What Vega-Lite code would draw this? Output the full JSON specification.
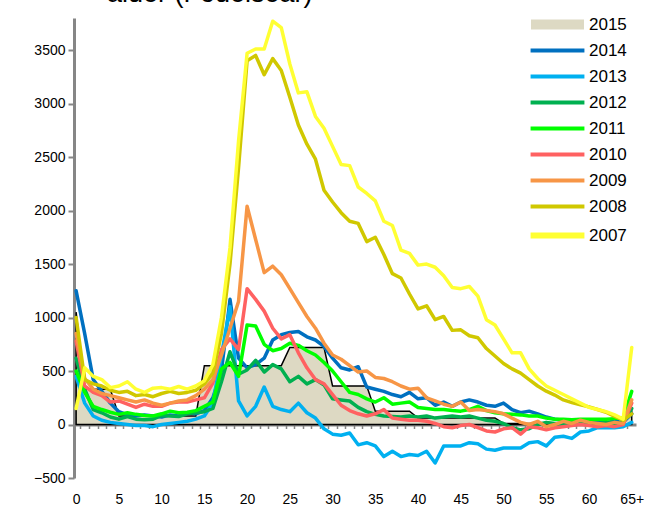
{
 "$schema": "https://vega.github.io/schema/vega-lite/v6.json",
 "width": 562, "height": 460,
 "autosize": "none",
 "padding": {"left": 74, "top": 18, "right": 15, "bottom": 32},
 "background": "white",
 "config": {"view": {"stroke": null}, "font": "Liberation Sans"},
 "title": {"text": "ålder (Födelseår)", "fontSize": 27, "fontWeight": "normal", "anchor": "start", "frame": "group", "dx": 33, "dy": 27, "offset": 14, "baseline": "alphabetic", "color": "black", "font": "Liberation Sans"},
 "data": {"values": [
{"year":"2015","age":0,"n":1050},{"year":"2015","age":1,"n":330},{"year":"2015","age":2,"n":330},{"year":"2015","age":3,"n":330},{"year":"2015","age":4,"n":330},{"year":"2015","age":5,"n":80},{"year":"2015","age":6,"n":80},{"year":"2015","age":7,"n":80},{"year":"2015","age":8,"n":80},{"year":"2015","age":9,"n":80},
{"year":"2015","age":10,"n":80},{"year":"2015","age":11,"n":80},{"year":"2015","age":12,"n":80},{"year":"2015","age":13,"n":80},{"year":"2015","age":14,"n":80},{"year":"2015","age":15,"n":550},{"year":"2015","age":16,"n":550},{"year":"2015","age":17,"n":550},{"year":"2015","age":18,"n":550},{"year":"2015","age":19,"n":550},
{"year":"2015","age":20,"n":550},{"year":"2015","age":21,"n":550},{"year":"2015","age":22,"n":550},{"year":"2015","age":23,"n":550},{"year":"2015","age":24,"n":550},{"year":"2015","age":25,"n":720},{"year":"2015","age":26,"n":720},{"year":"2015","age":27,"n":720},{"year":"2015","age":28,"n":720},{"year":"2015","age":29,"n":720},
{"year":"2015","age":30,"n":360},{"year":"2015","age":31,"n":360},{"year":"2015","age":32,"n":360},{"year":"2015","age":33,"n":360},{"year":"2015","age":34,"n":360},{"year":"2015","age":35,"n":125},{"year":"2015","age":36,"n":125},{"year":"2015","age":37,"n":125},{"year":"2015","age":38,"n":125},{"year":"2015","age":39,"n":125},
{"year":"2015","age":40,"n":60},{"year":"2015","age":41,"n":60},{"year":"2015","age":42,"n":60},{"year":"2015","age":43,"n":60},{"year":"2015","age":44,"n":60},{"year":"2015","age":45,"n":60},{"year":"2015","age":46,"n":60},{"year":"2015","age":47,"n":60},{"year":"2015","age":48,"n":60},{"year":"2015","age":49,"n":60},
{"year":"2015","age":50,"n":10},{"year":"2015","age":51,"n":10},{"year":"2015","age":52,"n":10},{"year":"2015","age":53,"n":10},{"year":"2015","age":54,"n":10},{"year":"2015","age":55,"n":10},{"year":"2015","age":56,"n":10},{"year":"2015","age":57,"n":10},{"year":"2015","age":58,"n":10},{"year":"2015","age":59,"n":10},
{"year":"2015","age":60,"n":10},{"year":"2015","age":61,"n":10},{"year":"2015","age":62,"n":10},{"year":"2015","age":63,"n":10},{"year":"2015","age":64,"n":10},{"year":"2015","age":65,"n":115},

{"year":"2014","age":0,"n":1250},{"year":"2014","age":1,"n":850},{"year":"2014","age":2,"n":420},{"year":"2014","age":3,"n":310},{"year":"2014","age":4,"n":200},{"year":"2014","age":5,"n":120},{"year":"2014","age":6,"n":90},{"year":"2014","age":7,"n":80},{"year":"2014","age":8,"n":90},{"year":"2014","age":9,"n":80},
{"year":"2014","age":10,"n":70},{"year":"2014","age":11,"n":90},{"year":"2014","age":12,"n":80},{"year":"2014","age":13,"n":110},{"year":"2014","age":14,"n":100},{"year":"2014","age":15,"n":130},{"year":"2014","age":16,"n":250},{"year":"2014","age":17,"n":500},{"year":"2014","age":18,"n":1170},{"year":"2014","age":19,"n":620},
{"year":"2014","age":20,"n":530},{"year":"2014","age":21,"n":560},{"year":"2014","age":22,"n":620},{"year":"2014","age":23,"n":790},{"year":"2014","age":24,"n":840},{"year":"2014","age":25,"n":860},{"year":"2014","age":26,"n":870},{"year":"2014","age":27,"n":820},{"year":"2014","age":28,"n":790},{"year":"2014","age":29,"n":730},
{"year":"2014","age":30,"n":620},{"year":"2014","age":31,"n":530},{"year":"2014","age":32,"n":510},{"year":"2014","age":33,"n":540},{"year":"2014","age":34,"n":350},{"year":"2014","age":35,"n":330},{"year":"2014","age":36,"n":310},{"year":"2014","age":37,"n":280},{"year":"2014","age":38,"n":260},{"year":"2014","age":39,"n":300},
{"year":"2014","age":40,"n":240},{"year":"2014","age":41,"n":250},{"year":"2014","age":42,"n":180},{"year":"2014","age":43,"n":210},{"year":"2014","age":44,"n":170},{"year":"2014","age":45,"n":210},{"year":"2014","age":46,"n":230},{"year":"2014","age":47,"n":210},{"year":"2014","age":48,"n":180},{"year":"2014","age":49,"n":170},
{"year":"2014","age":50,"n":200},{"year":"2014","age":51,"n":140},{"year":"2014","age":52,"n":110},{"year":"2014","age":53,"n":125},{"year":"2014","age":54,"n":100},{"year":"2014","age":55,"n":70},{"year":"2014","age":56,"n":50},{"year":"2014","age":57,"n":40},{"year":"2014","age":58,"n":30},{"year":"2014","age":59,"n":40},
{"year":"2014","age":60,"n":20},{"year":"2014","age":61,"n":30},{"year":"2014","age":62,"n":20},{"year":"2014","age":63,"n":30},{"year":"2014","age":64,"n":20},{"year":"2014","age":65,"n":100},

{"year":"2013","age":0,"n":450},{"year":"2013","age":1,"n":200},{"year":"2013","age":2,"n":80},{"year":"2013","age":3,"n":40},{"year":"2013","age":4,"n":20},{"year":"2013","age":5,"n":10},{"year":"2013","age":6,"n":0},{"year":"2013","age":7,"n":-10},{"year":"2013","age":8,"n":-10},{"year":"2013","age":9,"n":-20},
{"year":"2013","age":10,"n":0},{"year":"2013","age":11,"n":10},{"year":"2013","age":12,"n":20},{"year":"2013","age":13,"n":30},{"year":"2013","age":14,"n":50},{"year":"2013","age":15,"n":80},{"year":"2013","age":16,"n":200},{"year":"2013","age":17,"n":650},{"year":"2013","age":18,"n":1100},{"year":"2013","age":19,"n":220},
{"year":"2013","age":20,"n":80},{"year":"2013","age":21,"n":170},{"year":"2013","age":22,"n":350},{"year":"2013","age":23,"n":170},{"year":"2013","age":24,"n":140},{"year":"2013","age":25,"n":120},{"year":"2013","age":26,"n":200},{"year":"2013","age":27,"n":110},{"year":"2013","age":28,"n":60},{"year":"2013","age":29,"n":-40},
{"year":"2013","age":30,"n":-90},{"year":"2013","age":31,"n":-100},{"year":"2013","age":32,"n":-80},{"year":"2013","age":33,"n":-190},{"year":"2013","age":34,"n":-170},{"year":"2013","age":35,"n":-200},{"year":"2013","age":36,"n":-300},{"year":"2013","age":37,"n":-250},{"year":"2013","age":38,"n":-300},{"year":"2013","age":39,"n":-280},
{"year":"2013","age":40,"n":-290},{"year":"2013","age":41,"n":-250},{"year":"2013","age":42,"n":-360},{"year":"2013","age":43,"n":-200},{"year":"2013","age":44,"n":-200},{"year":"2013","age":45,"n":-200},{"year":"2013","age":46,"n":-170},{"year":"2013","age":47,"n":-180},{"year":"2013","age":48,"n":-230},{"year":"2013","age":49,"n":-240},
{"year":"2013","age":50,"n":-220},{"year":"2013","age":51,"n":-220},{"year":"2013","age":52,"n":-220},{"year":"2013","age":53,"n":-170},{"year":"2013","age":54,"n":-160},{"year":"2013","age":55,"n":-200},{"year":"2013","age":56,"n":-120},{"year":"2013","age":57,"n":-110},{"year":"2013","age":58,"n":-130},{"year":"2013","age":59,"n":-70},
{"year":"2013","age":60,"n":-60},{"year":"2013","age":61,"n":-30},{"year":"2013","age":62,"n":-30},{"year":"2013","age":63,"n":-30},{"year":"2013","age":64,"n":-20},{"year":"2013","age":65,"n":20},

{"year":"2012","age":0,"n":620},{"year":"2012","age":1,"n":330},{"year":"2012","age":2,"n":140},{"year":"2012","age":3,"n":110},{"year":"2012","age":4,"n":70},{"year":"2012","age":5,"n":50},{"year":"2012","age":6,"n":75},{"year":"2012","age":7,"n":50},{"year":"2012","age":8,"n":45},{"year":"2012","age":9,"n":50},
{"year":"2012","age":10,"n":85},{"year":"2012","age":11,"n":80},{"year":"2012","age":12,"n":75},{"year":"2012","age":13,"n":100},{"year":"2012","age":14,"n":110},{"year":"2012","age":15,"n":120},{"year":"2012","age":16,"n":150},{"year":"2012","age":17,"n":400},{"year":"2012","age":18,"n":680},{"year":"2012","age":19,"n":470},
{"year":"2012","age":20,"n":510},{"year":"2012","age":21,"n":600},{"year":"2012","age":22,"n":490},{"year":"2012","age":23,"n":560},{"year":"2012","age":24,"n":520},{"year":"2012","age":25,"n":400},{"year":"2012","age":26,"n":450},{"year":"2012","age":27,"n":380},{"year":"2012","age":28,"n":420},{"year":"2012","age":29,"n":370},
{"year":"2012","age":30,"n":240},{"year":"2012","age":31,"n":230},{"year":"2012","age":32,"n":220},{"year":"2012","age":33,"n":160},{"year":"2012","age":34,"n":120},{"year":"2012","age":35,"n":95},{"year":"2012","age":36,"n":80},{"year":"2012","age":37,"n":75},{"year":"2012","age":38,"n":70},{"year":"2012","age":39,"n":80},
{"year":"2012","age":40,"n":70},{"year":"2012","age":41,"n":80},{"year":"2012","age":42,"n":60},{"year":"2012","age":43,"n":70},{"year":"2012","age":44,"n":80},{"year":"2012","age":45,"n":70},{"year":"2012","age":46,"n":80},{"year":"2012","age":47,"n":60},{"year":"2012","age":48,"n":40},{"year":"2012","age":49,"n":30},
{"year":"2012","age":50,"n":10},{"year":"2012","age":51,"n":-30},{"year":"2012","age":52,"n":-50},{"year":"2012","age":53,"n":-40},{"year":"2012","age":54,"n":0},{"year":"2012","age":55,"n":20},{"year":"2012","age":56,"n":10},{"year":"2012","age":57,"n":0},{"year":"2012","age":58,"n":20},{"year":"2012","age":59,"n":10},
{"year":"2012","age":60,"n":20},{"year":"2012","age":61,"n":10},{"year":"2012","age":62,"n":20},{"year":"2012","age":63,"n":10},{"year":"2012","age":64,"n":20},{"year":"2012","age":65,"n":150},

{"year":"2011","age":0,"n":500},{"year":"2011","age":1,"n":300},{"year":"2011","age":2,"n":170},{"year":"2011","age":3,"n":140},{"year":"2011","age":4,"n":115},{"year":"2011","age":5,"n":95},{"year":"2011","age":6,"n":110},{"year":"2011","age":7,"n":95},{"year":"2011","age":8,"n":85},{"year":"2011","age":9,"n":80},
{"year":"2011","age":10,"n":100},{"year":"2011","age":11,"n":125},{"year":"2011","age":12,"n":110},{"year":"2011","age":13,"n":115},{"year":"2011","age":14,"n":130},{"year":"2011","age":15,"n":170},{"year":"2011","age":16,"n":210},{"year":"2011","age":17,"n":520},{"year":"2011","age":18,"n":580},{"year":"2011","age":19,"n":450},
{"year":"2011","age":20,"n":930},{"year":"2011","age":21,"n":920},{"year":"2011","age":22,"n":750},{"year":"2011","age":23,"n":690},{"year":"2011","age":24,"n":710},{"year":"2011","age":25,"n":760},{"year":"2011","age":26,"n":740},{"year":"2011","age":27,"n":690},{"year":"2011","age":28,"n":650},{"year":"2011","age":29,"n":580},
{"year":"2011","age":30,"n":500},{"year":"2011","age":31,"n":400},{"year":"2011","age":32,"n":300},{"year":"2011","age":33,"n":280},{"year":"2011","age":34,"n":240},{"year":"2011","age":35,"n":210},{"year":"2011","age":36,"n":250},{"year":"2011","age":37,"n":190},{"year":"2011","age":38,"n":200},{"year":"2011","age":39,"n":210},
{"year":"2011","age":40,"n":160},{"year":"2011","age":41,"n":150},{"year":"2011","age":42,"n":140},{"year":"2011","age":43,"n":140},{"year":"2011","age":44,"n":130},{"year":"2011","age":45,"n":125},{"year":"2011","age":46,"n":140},{"year":"2011","age":47,"n":170},{"year":"2011","age":48,"n":130},{"year":"2011","age":49,"n":110},
{"year":"2011","age":50,"n":100},{"year":"2011","age":51,"n":95},{"year":"2011","age":52,"n":90},{"year":"2011","age":53,"n":80},{"year":"2011","age":54,"n":80},{"year":"2011","age":55,"n":60},{"year":"2011","age":56,"n":50},{"year":"2011","age":57,"n":50},{"year":"2011","age":58,"n":45},{"year":"2011","age":59,"n":50},
{"year":"2011","age":60,"n":50},{"year":"2011","age":61,"n":50},{"year":"2011","age":62,"n":50},{"year":"2011","age":63,"n":55},{"year":"2011","age":64,"n":60},{"year":"2011","age":65,"n":310},

{"year":"2010","age":0,"n":780},{"year":"2010","age":1,"n":360},{"year":"2010","age":2,"n":300},{"year":"2010","age":3,"n":270},{"year":"2010","age":4,"n":210},{"year":"2010","age":5,"n":220},{"year":"2010","age":6,"n":190},{"year":"2010","age":7,"n":160},{"year":"2010","age":8,"n":190},{"year":"2010","age":9,"n":170},
{"year":"2010","age":10,"n":170},{"year":"2010","age":11,"n":200},{"year":"2010","age":12,"n":210},{"year":"2010","age":13,"n":210},{"year":"2010","age":14,"n":230},{"year":"2010","age":15,"n":250},{"year":"2010","age":16,"n":390},{"year":"2010","age":17,"n":700},{"year":"2010","age":18,"n":800},{"year":"2010","age":19,"n":700},
{"year":"2010","age":20,"n":1270},{"year":"2010","age":21,"n":1170},{"year":"2010","age":22,"n":1060},{"year":"2010","age":23,"n":900},{"year":"2010","age":24,"n":800},{"year":"2010","age":25,"n":840},{"year":"2010","age":26,"n":670},{"year":"2010","age":27,"n":530},{"year":"2010","age":28,"n":420},{"year":"2010","age":29,"n":380},
{"year":"2010","age":30,"n":280},{"year":"2010","age":31,"n":180},{"year":"2010","age":32,"n":130},{"year":"2010","age":33,"n":100},{"year":"2010","age":34,"n":80},{"year":"2010","age":35,"n":100},{"year":"2010","age":36,"n":140},{"year":"2010","age":37,"n":60},{"year":"2010","age":38,"n":50},{"year":"2010","age":39,"n":40},
{"year":"2010","age":40,"n":40},{"year":"2010","age":41,"n":30},{"year":"2010","age":42,"n":10},{"year":"2010","age":43,"n":-20},{"year":"2010","age":44,"n":-30},{"year":"2010","age":45,"n":-10},{"year":"2010","age":46,"n":0},{"year":"2010","age":47,"n":-30},{"year":"2010","age":48,"n":-60},{"year":"2010","age":49,"n":-70},
{"year":"2010","age":50,"n":-40},{"year":"2010","age":51,"n":-30},{"year":"2010","age":52,"n":-90},{"year":"2010","age":53,"n":-20},{"year":"2010","age":54,"n":-30},{"year":"2010","age":55,"n":-50},{"year":"2010","age":56,"n":-30},{"year":"2010","age":57,"n":-20},{"year":"2010","age":58,"n":-10},{"year":"2010","age":59,"n":0},
{"year":"2010","age":60,"n":-10},{"year":"2010","age":61,"n":-20},{"year":"2010","age":62,"n":-10},{"year":"2010","age":63,"n":-20},{"year":"2010","age":64,"n":0},{"year":"2010","age":65,"n":200},

{"year":"2009","age":0,"n":850},{"year":"2009","age":1,"n":430},{"year":"2009","age":2,"n":330},{"year":"2009","age":3,"n":290},{"year":"2009","age":4,"n":270},{"year":"2009","age":5,"n":250},{"year":"2009","age":6,"n":230},{"year":"2009","age":7,"n":210},{"year":"2009","age":8,"n":230},{"year":"2009","age":9,"n":200},
{"year":"2009","age":10,"n":180},{"year":"2009","age":11,"n":200},{"year":"2009","age":12,"n":220},{"year":"2009","age":13,"n":230},{"year":"2009","age":14,"n":270},{"year":"2009","age":15,"n":330},{"year":"2009","age":16,"n":420},{"year":"2009","age":17,"n":650},{"year":"2009","age":18,"n":900},{"year":"2009","age":19,"n":1150},
{"year":"2009","age":20,"n":2040},{"year":"2009","age":21,"n":1730},{"year":"2009","age":22,"n":1420},{"year":"2009","age":23,"n":1480},{"year":"2009","age":24,"n":1400},{"year":"2009","age":25,"n":1270},{"year":"2009","age":26,"n":1140},{"year":"2009","age":27,"n":1010},{"year":"2009","age":28,"n":900},{"year":"2009","age":29,"n":760},
{"year":"2009","age":30,"n":650},{"year":"2009","age":31,"n":610},{"year":"2009","age":32,"n":550},{"year":"2009","age":33,"n":490},{"year":"2009","age":34,"n":500},{"year":"2009","age":35,"n":440},{"year":"2009","age":36,"n":430},{"year":"2009","age":37,"n":400},{"year":"2009","age":38,"n":360},{"year":"2009","age":39,"n":330},
{"year":"2009","age":40,"n":340},{"year":"2009","age":41,"n":250},{"year":"2009","age":42,"n":220},{"year":"2009","age":43,"n":190},{"year":"2009","age":44,"n":170},{"year":"2009","age":45,"n":210},{"year":"2009","age":46,"n":130},{"year":"2009","age":47,"n":140},{"year":"2009","age":48,"n":130},{"year":"2009","age":49,"n":120},
{"year":"2009","age":50,"n":100},{"year":"2009","age":51,"n":60},{"year":"2009","age":52,"n":20},{"year":"2009","age":53,"n":0},{"year":"2009","age":54,"n":30},{"year":"2009","age":55,"n":-20},{"year":"2009","age":56,"n":0},{"year":"2009","age":57,"n":30},{"year":"2009","age":58,"n":10},{"year":"2009","age":59,"n":40},
{"year":"2009","age":60,"n":20},{"year":"2009","age":61,"n":10},{"year":"2009","age":62,"n":0},{"year":"2009","age":63,"n":20},{"year":"2009","age":64,"n":10},{"year":"2009","age":65,"n":230},

{"year":"2008","age":0,"n":1000},{"year":"2008","age":1,"n":420},{"year":"2008","age":2,"n":380},{"year":"2008","age":3,"n":360},{"year":"2008","age":4,"n":320},{"year":"2008","age":5,"n":300},{"year":"2008","age":6,"n":310},{"year":"2008","age":7,"n":270},{"year":"2008","age":8,"n":280},{"year":"2008","age":9,"n":260},
{"year":"2008","age":10,"n":290},{"year":"2008","age":11,"n":310},{"year":"2008","age":12,"n":290},{"year":"2008","age":13,"n":300},{"year":"2008","age":14,"n":320},{"year":"2008","age":15,"n":380},{"year":"2008","age":16,"n":480},{"year":"2008","age":17,"n":850},{"year":"2008","age":18,"n":1500},{"year":"2008","age":19,"n":2400},
{"year":"2008","age":20,"n":3400},{"year":"2008","age":21,"n":3450},{"year":"2008","age":22,"n":3270},{"year":"2008","age":23,"n":3420},{"year":"2008","age":24,"n":3310},{"year":"2008","age":25,"n":3060},{"year":"2008","age":26,"n":2800},{"year":"2008","age":27,"n":2620},{"year":"2008","age":28,"n":2480},{"year":"2008","age":29,"n":2190},
{"year":"2008","age":30,"n":2080},{"year":"2008","age":31,"n":1980},{"year":"2008","age":32,"n":1900},{"year":"2008","age":33,"n":1880},{"year":"2008","age":34,"n":1710},{"year":"2008","age":35,"n":1750},{"year":"2008","age":36,"n":1590},{"year":"2008","age":37,"n":1410},{"year":"2008","age":38,"n":1370},{"year":"2008","age":39,"n":1220},
{"year":"2008","age":40,"n":1080},{"year":"2008","age":41,"n":1110},{"year":"2008","age":42,"n":980},{"year":"2008","age":43,"n":1010},{"year":"2008","age":44,"n":880},{"year":"2008","age":45,"n":885},{"year":"2008","age":46,"n":830},{"year":"2008","age":47,"n":811},{"year":"2008","age":48,"n":710},{"year":"2008","age":49,"n":640},
{"year":"2008","age":50,"n":570},{"year":"2008","age":51,"n":520},{"year":"2008","age":52,"n":480},{"year":"2008","age":53,"n":420},{"year":"2008","age":54,"n":360},{"year":"2008","age":55,"n":312},{"year":"2008","age":56,"n":275},{"year":"2008","age":57,"n":230},{"year":"2008","age":58,"n":205},{"year":"2008","age":59,"n":185},
{"year":"2008","age":60,"n":165},{"year":"2008","age":61,"n":140},{"year":"2008","age":62,"n":115},{"year":"2008","age":63,"n":75},{"year":"2008","age":64,"n":40},{"year":"2008","age":65,"n":100},

{"year":"2007","age":0,"n":150},{"year":"2007","age":1,"n":530},{"year":"2007","age":2,"n":450},{"year":"2007","age":3,"n":420},{"year":"2007","age":4,"n":345},{"year":"2007","age":5,"n":360},{"year":"2007","age":6,"n":400},{"year":"2007","age":7,"n":330},{"year":"2007","age":8,"n":300},{"year":"2007","age":9,"n":340},
{"year":"2007","age":10,"n":345},{"year":"2007","age":11,"n":330},{"year":"2007","age":12,"n":355},{"year":"2007","age":13,"n":330},{"year":"2007","age":14,"n":360},{"year":"2007","age":15,"n":410},{"year":"2007","age":16,"n":560},{"year":"2007","age":17,"n":1000},{"year":"2007","age":18,"n":1650},{"year":"2007","age":19,"n":2650},
{"year":"2007","age":20,"n":3470},{"year":"2007","age":21,"n":3510},{"year":"2007","age":22,"n":3510},{"year":"2007","age":23,"n":3770},{"year":"2007","age":24,"n":3710},{"year":"2007","age":25,"n":3370},{"year":"2007","age":26,"n":3100},{"year":"2007","age":27,"n":3110},{"year":"2007","age":28,"n":2880},{"year":"2007","age":29,"n":2770},
{"year":"2007","age":30,"n":2600},{"year":"2007","age":31,"n":2430},{"year":"2007","age":32,"n":2420},{"year":"2007","age":33,"n":2220},{"year":"2007","age":34,"n":2160},{"year":"2007","age":35,"n":2090},{"year":"2007","age":36,"n":1900},{"year":"2007","age":37,"n":1860},{"year":"2007","age":38,"n":1630},{"year":"2007","age":39,"n":1600},
{"year":"2007","age":40,"n":1490},{"year":"2007","age":41,"n":1500},{"year":"2007","age":42,"n":1470},{"year":"2007","age":43,"n":1390},{"year":"2007","age":44,"n":1280},{"year":"2007","age":45,"n":1270},{"year":"2007","age":46,"n":1290},{"year":"2007","age":47,"n":1200},{"year":"2007","age":48,"n":980},{"year":"2007","age":49,"n":930},
{"year":"2007","age":50,"n":800},{"year":"2007","age":51,"n":670},{"year":"2007","age":52,"n":670},{"year":"2007","age":53,"n":520},{"year":"2007","age":54,"n":430},{"year":"2007","age":55,"n":360},{"year":"2007","age":56,"n":320},{"year":"2007","age":57,"n":280},{"year":"2007","age":58,"n":240},{"year":"2007","age":59,"n":200},
{"year":"2007","age":60,"n":160},{"year":"2007","age":61,"n":140},{"year":"2007","age":62,"n":120},{"year":"2007","age":63,"n":90},{"year":"2007","age":64,"n":50},{"year":"2007","age":65,"n":720}
 ]},
 "encoding": {
  "y": {"field": "n", "type": "quantitative", "scale": {"domain": [-500, 3800], "nice": false, "zero": false},
        "axis": {"values": [-500,0,500,1000,1500,2000,2500,3000,3500], "format": "d", "title": null, "grid": false, "domain": true, "domainColor": "#868686", "domainWidth": 3, "ticks": true, "tickColor": "#868686", "tickSize": 6, "tickWidth": 2, "labelFontSize": 14, "labelColor": "black", "labelPadding": 3, "labelFont": "Liberation Sans"}},
  "color": {"field": "year", "type": "nominal",
    "scale": {"domain": ["2015","2014","2013","2012","2011","2010","2009","2008","2007"], "range": ["#DDD9C3","#0070C0","#00B0F0","#00B050","#00FF00","#FF6161","#F79646","#D0C800","#FFFF33"]},
    "legend": {"title": null, "orient": "none", "legendX": 475, "legendY": -2, "symbolType": "stroke", "symbolSize": 2900, "symbolStrokeWidth": 4, "labelFontSize": 17, "labelFont": "Liberation Sans", "labelColor": "black", "labelOffset": 23, "rowPadding": 8,
      "values": ["2015","2014","2013","2012","2011","2010","2009","2008","2007"],
      "encode": {"symbols": {"update": {
        "shape": {"signal": "datum.value == '2015' ? 'M-0.95,-0.15H0.95V0.15H-0.95Z' : 'stroke'"},
        "fill": {"signal": "datum.value == '2015' ? '#DDD9C3' : 'transparent'"},
        "stroke": {"signal": "datum.value == '2015' ? '#000000' : scale('color', datum.value)"},
        "strokeWidth": {"signal": "datum.value == '2015' ? 1.8 : (datum.value == '2007' ? 6 : 4)"},
        "opacity": {"value": 1},
        "strokeOpacity": {"value": 1}
      }}}}
  }
 },
 "layer": [
  {"transform": [{"filter": "datum.year == '2015'"}],
   "mark": {"type": "area", "stroke": "black", "strokeWidth": 1.5, "opacity": 1},
   "encoding": {
    "x": {"field": "age", "type": "quantitative", "scale": {"domain": [-0.25, 65.5], "nice": false, "zero": false},
          "axis": {"orient": "bottom", "values": [0,5,10,15,20,25,30,35,40,45,50,55,60,65], "labelExpr": "datum.value == 65 ? '65+' : datum.value", "title": null, "grid": false, "domain": false, "ticks": false, "labelPadding": 14, "labelFontSize": 14, "labelColor": "black", "labelFont": "Liberation Sans"}}
   }},
  {"transform": [{"filter": "datum.year != '2015'"}],
   "mark": {"type": "line", "strokeJoin": "round", "strokeCap": "round"},
   "encoding": {
    "x": {"field": "age", "type": "quantitative", "scale": {"domain": [-0.25, 65.5], "nice": false, "zero": false},
          "axis": {"orient": "bottom", "offset": -53.5, "values": [0.5,1.5,2.5,3.5,4.5,5.5,6.5,7.5,8.5,9.5,10.5,11.5,12.5,13.5,14.5,15.5,16.5,17.5,18.5,19.5,20.5,21.5,22.5,23.5,24.5,25.5,26.5,27.5,28.5,29.5,30.5,31.5,32.5,33.5,34.5,35.5,36.5,37.5,38.5,39.5,40.5,41.5,42.5,43.5,44.5,45.5,46.5,47.5,48.5,49.5,50.5,51.5,52.5,53.5,54.5,55.5,56.5,57.5,58.5,59.5,60.5,61.5,62.5,63.5,64.5], "labels": false, "title": null, "grid": false, "domain": true, "domainColor": "#868686", "domainWidth": 3, "ticks": true, "tickSize": 4, "tickColor": "#868686", "tickWidth": 1.5}},
    "strokeWidth": {"field": "year", "type": "ordinal", "legend": null,
      "scale": {"domain": ["2014","2013","2012","2011","2010","2009","2008","2007"], "range": [3.5,3.5,3.5,3.5,3.5,3.5,4,5.5]}}
   }}
 ],
 "resolve": {"axis": {"x": "independent"}}
}
